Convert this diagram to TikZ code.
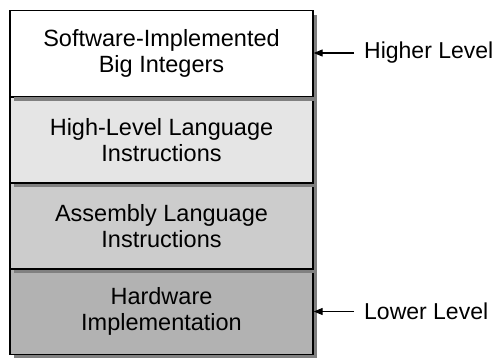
\documentclass[tikz,border=0pt]{standalone}
\usepackage{fontspec}
\setmainfont{Liberation Sans}
\usetikzlibrary{shadows, arrows.meta}

\tikzset{
    layer/.style={rectangle, draw, line width=1.3pt, minimum width=303pt,
        minimum height=86pt, align=center, inner sep=0pt,
        font=\fontsize{23.5}{26}\selectfont,
        drop shadow={shadow xshift=4pt, shadow yshift=-4pt, opacity=1, fill=black!50}},
    level/.style={anchor=west, inner xsep=10pt, inner ysep=0pt,
        font=\fontsize{23}{26}\selectfont},
    pointer/.style={-{Triangle[length=9pt, width=7pt]}, line width=1.1pt}
}

\begin{document}
\begin{tikzpicture}[x=1pt, y=-1pt]
    \useasboundingbox (0, 0) rectangle (496, 357);

    \node[layer, fill=black!30] (hw) at (161.5, 311.5) {Hardware\\Implementation};
    \node[layer, fill=black!20] (asm) at (161.5, 226) {Assembly Language\\Instructions};
    \node[layer, fill=black!10] (hll) at (161.5, 140) {High-Level Language\\Instructions};
    \node[layer, fill=white] (sw) at (161.5, 53.5) {Software-Implemented\\Big Integers};

    \node[level] (high) at (354, 53) {Higher Level};
    \node[level] (low) at (354, 311.5) {Lower Level};

    \draw[pointer] (high.west) -- (sw.east |- high.west);
    \draw[pointer] (low.west) -- (hw.east |- low.west);
\end{tikzpicture}
\end{document}
